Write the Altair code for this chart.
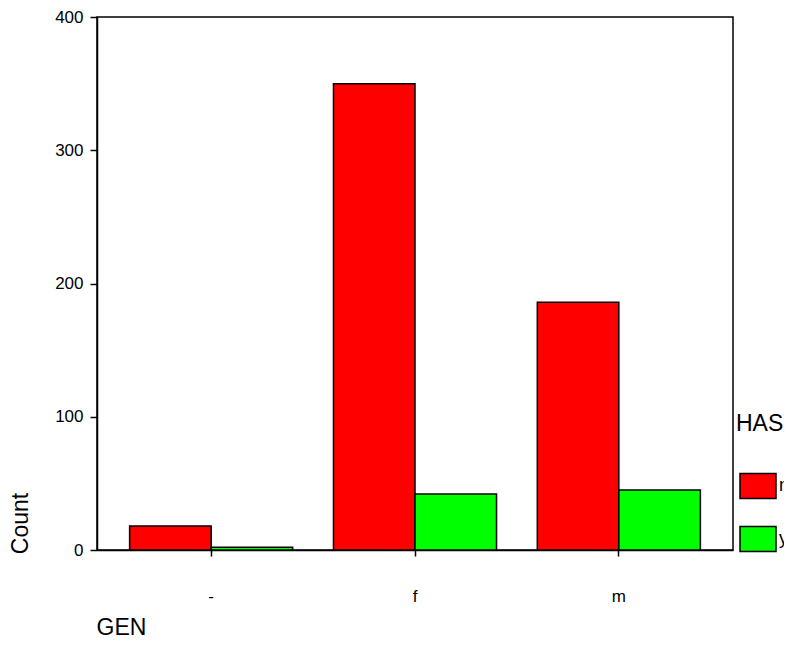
import altair as alt
import pandas as pd

categories = ["-", "f", "m"]
groups = ["n", "y"]
gen = ["-", "-", "f", "f", "m", "m"]
has = ["n", "y", "n", "y", "n", "y"]
count = [18, 2, 350, 42, 186, 45]
y_ticks = [0, 100, 200, 300, 400]
colors = ["#ff0000", "#00ff00"]

df = pd.DataFrame({"GEN": gen, "HAS": has, "Count": count})

FONT = "Liberation Sans"

chart = alt.Chart(df).mark_bar(stroke="black", strokeWidth=1.5).encode(
    x=alt.X(
        "GEN:N",
        sort=categories,
        scale=alt.Scale(paddingInner=0.2, paddingOuter=0.16),
        axis=alt.Axis(
            title="GEN",
            labelAngle=0,
            tickSize=6,
            labelPadding=32,
            labelFontSize=17,
            titleFontSize=23,
            titleFontWeight="normal",
            titleAnchor="start",
            titleAlign="left",
            titleBaseline="alphabetic",
            titleX=-1,
            titleY=84,
        ),
    ),
    xOffset=alt.XOffset("HAS:N", sort=groups, scale=alt.Scale(paddingInner=0, paddingOuter=0)),
    y=alt.Y(
        "Count:Q",
        scale=alt.Scale(domain=[0, 400], nice=False),
        axis=alt.Axis(
            title="Count",
            values=y_ticks,
            tickSize=7,
            labelPadding=7,
            labelFontSize=17,
            titleFontSize=23,
            titleFontWeight="normal",
            titleAngle=270,
            titleAlign="center",
            titleBaseline="middle",
            titleX=-77,
            titleY=506,
        ),
    ),
    color=alt.Color(
        "HAS:N",
        scale=alt.Scale(domain=groups, range=colors),
        legend=alt.Legend(
            title="HAS",
            orient="none",
            legendX=639,
            legendY=396,
            padding=0,
            titleFontSize=23,
            titleFontWeight="normal",
            titlePadding=31,
            titleColor="black",
            labelFontSize=18,
            labelColor="black",
            labelOffset=2,
            rowPadding=18,
            symbolType="M-1,-0.694L1,-0.694L1,0.694L-1,0.694Z",
            symbolSize=1296,
            symbolStrokeColor="black",
            symbolStrokeWidth=1.5,
            symbolOffset=3,
            symbolOpacity=1,
        ),
    ),
).properties(
    width=636,
    height=533,
    autosize="none",
    padding={"left": 89, "top": 9, "right": 51, "bottom": 88},
).configure_view(
    stroke="black", strokeWidth=1.5
).configure_axis(
    grid=False,
    domainColor="black",
    domainWidth=1.5,
    tickColor="black",
    tickWidth=1.5,
    labelColor="black",
    titleColor="black",
    labelFont=FONT,
    titleFont=FONT,
).configure_legend(
    labelFont=FONT, titleFont=FONT
)

chart.save("out.html", embed_options={"renderer": "svg", "actions": False})
